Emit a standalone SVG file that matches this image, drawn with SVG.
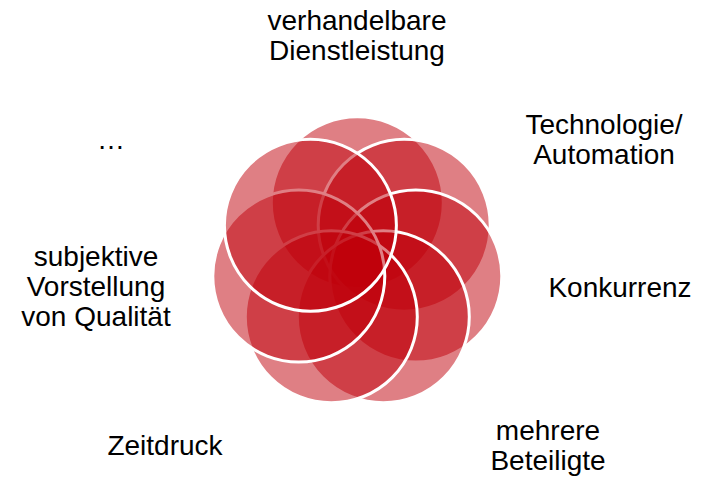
<svg xmlns="http://www.w3.org/2000/svg" width="722" height="481" viewBox="0 0 722 481">
  <style>
    .c { fill: #c0000a; fill-opacity: 0.5; stroke: #ffffff; stroke-width: 3; }
    .t { font-family: "Liberation Sans", Arial, sans-serif; font-size: 28px; fill: #000000; text-anchor: middle; }
  </style>
  <rect x="0" y="0" width="722" height="481" fill="#ffffff"/>
  <g id="circles">
    <g id="n-top"><circle class="c" cx="357.3" cy="202.7" r="86"/></g>
    <g id="n-ur"><circle class="c" cx="404.2" cy="225.3" r="86"/></g>
    <g id="n-r"><circle class="c" cx="415.8" cy="276.1" r="86"/></g>
    <g id="n-lr"><circle class="c" cx="383.3" cy="316.8" r="86"/></g>
    <g id="n-ll"><circle class="c" cx="331.3" cy="316.8" r="86"/></g>
    <g id="n-l"><circle class="c" cx="298.8" cy="276.1" r="86"/></g>
    <g id="n-ul"><circle class="c" cx="310.4" cy="225.3" r="86"/></g>
  </g>
  <g id="labels">
    <g id="l-top"><text class="t" x="357" y="29.5">verhandelbare</text><text class="t" x="357" y="59.5">Dienstleistung</text></g>
    <g id="l-ur"><text class="t" x="604" y="133.5">Technologie/</text><text class="t" x="604" y="163.5">Automation</text></g>
    <g id="l-r"><text class="t" x="620" y="297">Konkurrenz</text></g>
    <g id="l-lr"><text class="t" x="548" y="439.5">mehrere</text><text class="t" x="548" y="469.5">Beteiligte</text></g>
    <g id="l-ll"><text class="t" x="165" y="455">Zeitdruck</text></g>
    <g id="l-l"><text class="t" x="96" y="266">subjektive</text><text class="t" x="96" y="296">Vorstellung</text><text class="t" x="96" y="326">von Qualität</text></g>
    <g id="l-ul"><text class="t" x="111" y="149">…</text></g>
  </g>
</svg>
